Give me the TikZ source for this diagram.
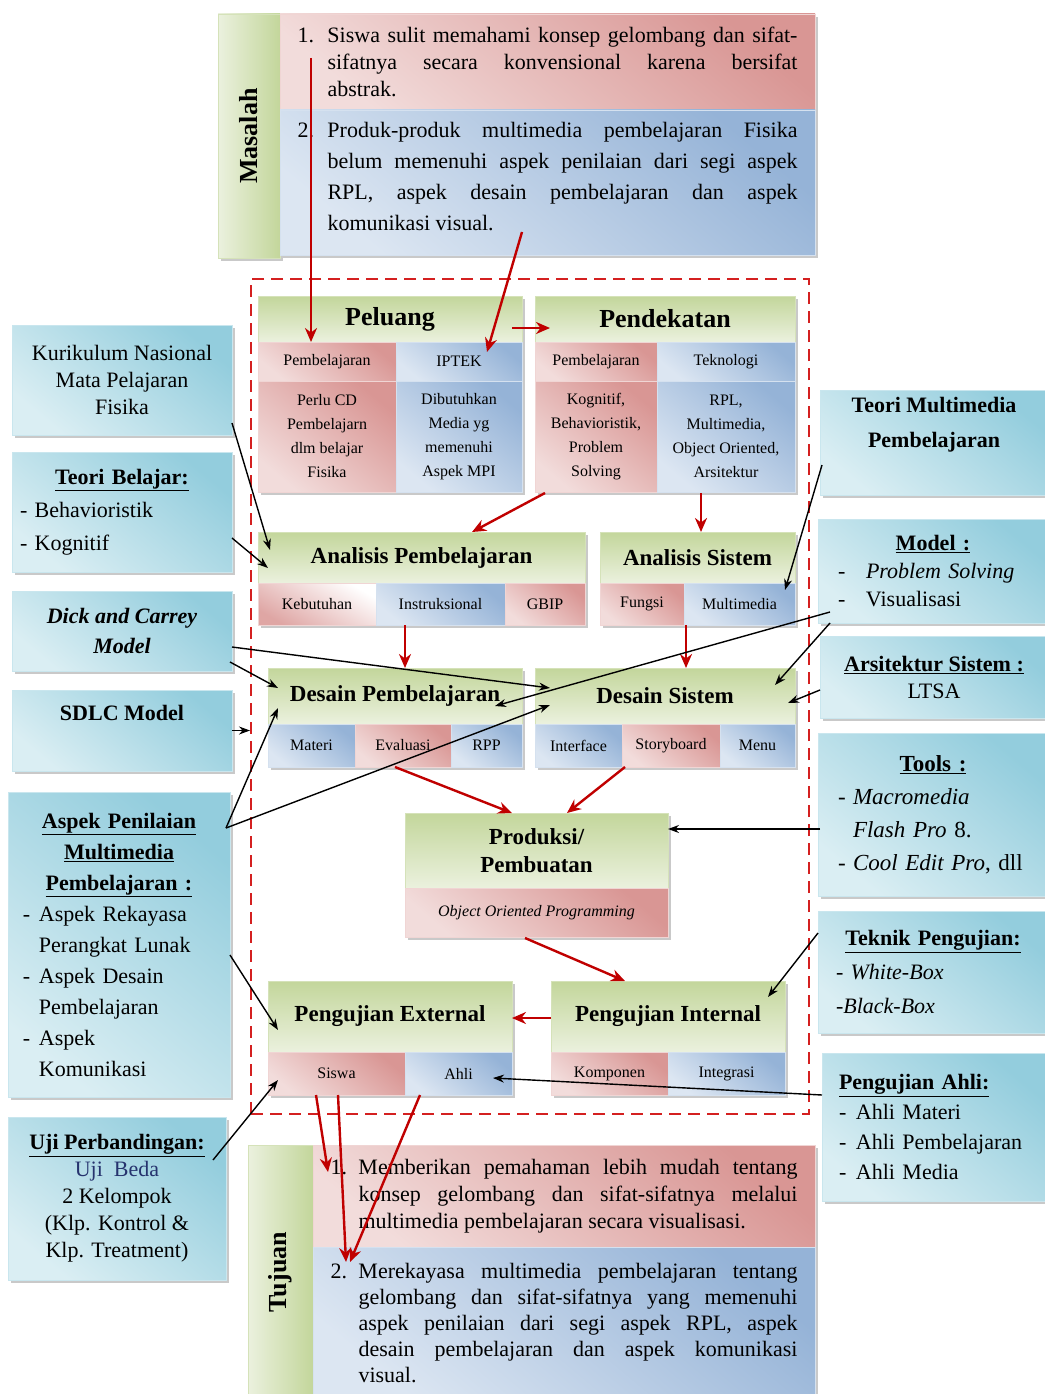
\documentclass[tikz,border=0pt]{standalone}
\usepackage{fontspec}
\setmainfont{Liberation Serif}
\usetikzlibrary{shadows,calc,arrows.meta}
\definecolor{grD}{HTML}{C3D69B}
\definecolor{grL}{HTML}{EBF1DE}
\definecolor{rdD}{HTML}{D99694}
\definecolor{rdL}{HTML}{F2DCDB}
\definecolor{blD}{HTML}{95B3D7}
\definecolor{blL}{HTML}{DCE6F2}
\definecolor{cyD}{HTML}{93CDDD}
\definecolor{cyL}{HTML}{DAEEF3}
\definecolor{arR}{HTML}{C00000}
\definecolor{frR}{HTML}{D42020}
\definecolor{navy}{HTML}{26336E}
\tikzset{
 cellbase/.style={anchor=north west, inner sep=0pt, outer sep=0pt, align=center, line width=0.8pt,
   drop shadow={shadow xshift=3pt, shadow yshift=-3pt, opacity=0.35, fill=black!60}},
 cellG/.style={cellbase, draw=grD!70!white, top color=grD, bottom color=grL},
 cellGV/.style={cellbase, draw=grD!70!white, left color=grL, right color=grD},
 cellR/.style={cellbase, draw=rdD!40!white, top color=rdD, bottom color=rdL, shading angle=-40},
 cellRW/.style={cellbase, draw=rdD!40!white, top color=white, bottom color=rdD!85, shading angle=-30},
 cellB/.style={cellbase, draw=blD!40!white, top color=blD, bottom color=blL, shading angle=-40},
 cellC/.style={cellbase, draw=cyD!50!white, top color=cyD, bottom color=cyL, shading angle=-40},
 fSub/.style={font=\fontsize{16}{24}\selectfont},
 fHead/.style={font=\fontsize{23}{28}\selectfont\bfseries},
 fBig/.style={font=\fontsize{26}{30}\selectfont\bfseries},
 fBody/.style={font=\fontsize{22}{27}\selectfont},
 fSide/.style={font=\fontsize{22}{27}\selectfont},
 arrR/.style={draw=arR, line width=2.4pt, -{Stealth[length=14pt,width=12pt]}},
 arrK/.style={draw=black, line width=1.4pt, -{Stealth[length=11pt,width=8pt]}},
}
\begin{document}
\begin{tikzpicture}[x=1pt,y=-1pt]
\useasboundingbox (0,0) rectangle (1044,1394);
\fill[white] (0,0) rectangle (1044,1394);

% dashed frame
\node[draw=frR, line width=2.4pt, dash pattern=on 12pt off 7pt, anchor=north west,
  minimum width=558pt, minimum height=835pt, inner sep=0pt] (frame) at (250,278) {};

% Masalah
\node[cellGV, minimum width=62pt, minimum height=244pt, fBig] (masL) at (218,14) {\rotatebox{90}{Masalah}};
\node[cellR, minimum width=535pt, minimum height=96pt, fBody] (mas1) at (280,14)
 {\makebox[30pt][l]{1.}\parbox[t]{470pt}{Siswa sulit memahami konsep gelombang dan sifat-\linebreak sifatnya secara konvensional karena bersifat\linebreak abstrak.}};
\node[cellB, minimum width=535pt, minimum height=145pt, font=\fontsize{22}{31}\selectfont] (mas2) at (280,110)
 {\makebox[30pt][l]{2.}\parbox[t]{470pt}{Produk-produk multimedia pembelajaran Fisika\linebreak belum memenuhi aspek penilaian dari segi aspek\linebreak RPL, aspek desain pembelajaran dan aspek\linebreak komunikasi visual.\par\vspace{12pt}}};

% Peluang
\node[cellG, minimum width=264pt, minimum height=46pt, fBig] (pel) at (258,296) {Peluang};
\node[cellR, minimum width=138pt, minimum height=39pt, fSub] (pelA) at (258,342) {Pembelajaran};
\node[cellB, minimum width=126pt, minimum height=39pt, fSub] (pelB) at (396,342) {IPTEK};
\node[cellR, minimum width=138pt, minimum height=111pt, fSub] (pelC) at (258,381) {Perlu CD\\Pembelajarn\\dlm belajar\\Fisika};
\node[cellB, minimum width=126pt, minimum height=111pt, fSub] (pelD) at (396,381) {Dibutuhkan\\Media yg\\memenuhi\\Aspek MPI};

% Pendekatan
\node[cellG, minimum width=260pt, minimum height=46pt, fBig] (pen) at (535,296) {Pendekatan};
\node[cellR, minimum width=122pt, minimum height=39pt, fSub] (penA) at (535,342) {Pembelajaran};
\node[cellB, minimum width=138pt, minimum height=39pt, fSub] (penB) at (657,342) {Teknologi};
\node[cellR, minimum width=122pt, minimum height=111pt, fSub] (penC) at (535,381) {Kognitif,\\Behavioristik,\\Problem\\Solving};
\node[cellB, minimum width=138pt, minimum height=111pt, fSub] (penD) at (657,381) {RPL,\\Multimedia,\\Object Oriented,\\Arsitektur};

% Analisis Pembelajaran
\node[cellG, minimum width=327pt, minimum height=51pt, fHead] (ap) at (258,532) {Analisis Pembelajaran};
\node[cellRW, minimum width=118pt, minimum height=42pt, fSub] (apA) at (258,583) {Kebutuhan};
\node[cellB, minimum width=129pt, minimum height=42pt, fSub] (apB) at (376,583) {Instruksional};
\node[cellR, minimum width=80pt, minimum height=42pt, fSub] (apC) at (505,583) {GBIP};

% Analisis Sistem
\node[cellG, minimum width=195pt, minimum height=51pt, fHead] (asys) at (600,532) {Analisis Sistem};
\node[cellR, minimum width=84pt, minimum height=42pt, fSub] (asA) at (600,583) {Fungsi};
\node[cellB, minimum width=111pt, minimum height=42pt, fSub] (asB) at (684,583) {Multimedia};

% Desain Pembelajaran
\node[cellG, minimum width=254pt, minimum height=56pt, fHead] (dp) at (268,668) {Desain Pembelajaran};
\node[cellB, minimum width=87pt, minimum height=43pt, fSub] (dpA) at (268,724) {Materi};
\node[cellR, minimum width=96pt, minimum height=43pt, fSub] (dpB) at (355,724) {Evaluasi};
\node[cellB, minimum width=71pt, minimum height=43pt, fSub] (dpC) at (451,724) {RPP};

% Desain Sistem
\node[cellG, minimum width=260pt, minimum height=56pt, fHead] (ds) at (535,668) {Desain Sistem};
\node[cellB, minimum width=87pt, minimum height=43pt, fSub] (dsA) at (535,724) {Interface};
\node[cellR, minimum width=98pt, minimum height=43pt, fSub] (dsB) at (622,724) {Storyboard};
\node[cellB, minimum width=75pt, minimum height=43pt, fSub] (dsC) at (720,724) {Menu};

% Produksi
\node[cellG, minimum width=263pt, minimum height=75pt, fHead] (prod) at (405,813) {Produksi/\\Pembuatan};
\node[cellR, minimum width=263pt, minimum height=49pt, fSub] (prodA) at (405,888) {\textit{Object Oriented Programming}};

% Pengujian
\node[cellG, minimum width=244pt, minimum height=71pt, fHead] (pe) at (268,981) {Pengujian External};
\node[cellR, minimum width=137pt, minimum height=43pt, fSub] (peA) at (268,1052) {Siswa};
\node[cellB, minimum width=107pt, minimum height=43pt, fSub] (peB) at (405,1052) {Ahli};
\node[cellG, minimum width=234pt, minimum height=71pt, fHead] (pi) at (551,981) {Pengujian Internal};
\node[cellR, minimum width=117pt, minimum height=43pt, fSub] (piA) at (551,1052) {Komponen};
\node[cellB, minimum width=117pt, minimum height=43pt, fSub] (piB) at (668,1052) {Integrasi};

% Tujuan
\node[cellGV, minimum width=65pt, minimum height=254pt, fBig] (tujL) at (248,1145) {\rotatebox{90}{Tujuan}};
\node[cellR, minimum width=502pt, minimum height=102pt, fBody] (tuj1) at (313,1145)
 {\makebox[28pt][l]{1.}\parbox[t]{439pt}{Memberikan pemahaman lebih mudah tentang\linebreak konsep gelombang dan sifat-sifatnya melalui\linebreak multimedia pembelajaran secara visualisasi.}};
\node[cellB, minimum width=502pt, minimum height=152pt, font=\fontsize{22}{26}\selectfont] (tuj2) at (313,1247)
 {\makebox[28pt][l]{2.}\parbox[t]{439pt}{Merekayasa multimedia pembelajaran tentang\linebreak gelombang dan sifat-sifatnya yang memenuhi\linebreak aspek penilaian dari segi aspek RPL, aspek\linebreak desain pembelajaran dan aspek komunikasi\linebreak visual.}};

% Left boxes
\node[cellC, minimum width=220pt, minimum height=110pt, fSide] (kur) at (12,325) {Kurikulum Nasional\\Mata Pelajaran\\Fisika};
\node[cellC, minimum width=220pt, minimum height=120pt, text width=204pt, align=left, font=\fontsize{22}{33}\selectfont] (tb) at (12,452)
 {\makebox[204pt][c]{\underline{\textbf{Teori Belajar:}}}\\- Behavioristik\\- Kognitif};
\node[cellC, minimum width=220pt, minimum height=80pt, font=\fontsize{22}{30}\selectfont\bfseries\itshape] (dc) at (12,591) {Dick and Carrey\\Model};
\node[cellC, minimum width=220pt, minimum height=81pt, font=\fontsize{22}{27}\selectfont\bfseries] (sdlc) at (12,690) {SDLC Model\\[8pt]};
\node[cellC, minimum width=222pt, minimum height=305pt, text width=192pt, align=left, font=\fontsize{22}{31}\selectfont] (apm) at (8,792)
 {\makebox[192pt][c]{\underline{\textbf{Aspek Penilaian}}}\\
  \makebox[192pt][c]{\underline{\textbf{Multimedia}}}\\
  \makebox[192pt][c]{\underline{\textbf{Pembelajaran :}}}\\
  \makebox[16pt][l]{-}Aspek Rekayasa\\
  \hspace*{16pt}Perangkat Lunak\\
  \makebox[16pt][l]{-}Aspek Desain\\
  \hspace*{16pt}Pembelajaran\\
  \makebox[16pt][l]{-}Aspek\\
  \hspace*{16pt}Komunikasi};
\node[cellC, minimum width=218pt, minimum height=163pt, fSide] (uji) at (8,1117)
 {\underline{\textbf{Uji Perbandingan:}}\\\textcolor{navy}{Uji\ \ Beda}\\2 Kelompok\\(Klp. Kontrol \&\\Klp. Treatment)};

% Right boxes
\node[cellC, minimum width=228pt, minimum height=105pt, font=\fontsize{22}{35}\selectfont\bfseries] (tmp) at (820,390) {Teori Multimedia\\Pembelajaran\\[6pt]};
\node[cellC, minimum width=230pt, minimum height=104pt, text width=190pt, align=left, font=\fontsize{22}{28}\selectfont] (mod) at (818,519)
 {\makebox[190pt][c]{\underline{\textbf{Model :}}}\\\makebox[28pt][l]{-}\textit{Problem Solving}\\\makebox[28pt][l]{-}Visualisasi};
\node[cellC, minimum width=228pt, minimum height=82pt, fSide] (ars) at (820,636) {\underline{\textbf{Arsitektur Sistem :}}\\LTSA};
\node[cellC, minimum width=230pt, minimum height=163pt, text width=190pt, align=left, font=\fontsize{23}{33}\selectfont] (tools) at (818,733)
 {\makebox[190pt][c]{\underline{\textbf{Tools :}}}\\\makebox[15pt][l]{-}\textit{Macromedia}\\\hspace*{15pt}\textit{Flash Pro} 8.\\\makebox[15pt][l]{-}\textit{Cool Edit Pro}, dll};
\node[cellC, minimum width=230pt, minimum height=122pt, text width=194pt, align=left, font=\fontsize{22}{34}\selectfont] (tek) at (818,911)
 {\makebox[194pt][c]{\underline{\textbf{Teknik Pengujian:}}}\\- \textit{White-Box}\\-\textit{Black-Box}};
\node[cellC, minimum width=226pt, minimum height=148pt, text width=192pt, align=left, font=\fontsize{22}{30}\selectfont] (pa) at (822,1053)
 {\underline{\textbf{Pengujian Ahli:}}\\\makebox[17pt][l]{-}Ahli Materi\\\makebox[17pt][l]{-}Ahli Pembelajaran\\\makebox[17pt][l]{-}Ahli Media};

% Red arrows
\draw[arrR] ($(mas1.north west)+(31,44)$) -- ($(pelA.north west)+(53,0)$);
\draw[arrR] ($(mas2.north west)+(242,122)$) -- ($(pelB.north west)+(91,10)$);
\draw[arrR] ($(pel.north west)+(254,32)$) -- ($(pen.north west)+(15,32)$);
\draw[arrR] ($(penC.north west)+(10,112)$) -- ($(ap.north west)+(214,0)$);
\draw[arrR] ($(penD.north west)+(44,112)$) -- ($(asys.north west)+(101,0)$);
\draw[arrR] ($(apB.north west)+(29,42)$) -- ($(dp.north west)+(137,0)$);
\draw[arrR] ($(asB.north west)+(2,42)$) -- ($(ds.north west)+(151,0)$);
\draw[arrR] ($(dpB.north west)+(40,43)$) -- ($(prod.north west)+(107,0)$);
\draw[arrR] ($(dsB.north west)+(3,43)$) -- ($(prod.north west)+(162,0)$);
\draw[arrR] ($(prodA.north west)+(120,50)$) -- ($(pi.north west)+(74,0)$);
\draw[arrR] ($(pi.north west)+(0,37)$) -- ($(pe.north west)+(244,37)$);
\draw[arrR] ($(peA.north west)+(48,43)$) -- ($(tuj1.north west)+(15,27)$);
\draw[arrR] ($(peA.north west)+(70,43)$) -- ($(tuj2.north west)+(33,15)$);
\draw[arrR] ($(peB.north west)+(15,43)$) -- ($(tuj2.north west)+(37,15)$);

% Black arrows
\draw[arrK] ($(kur.north west)+(220,98)$) -- ($(ap.north west)+(12,18)$);
\draw[arrK] ($(tb.north west)+(220,86)$) -- ($(ap.north west)+(10,36)$);
\draw[arrK] ($(dc.north west)+(218,71)$) -- ($(dp.north west)+(10,20)$);
\draw[arrK] ($(dc.north west)+(220,56)$) -- ($(ds.north west)+(15,20)$);
\draw[arrK] (sdlc.east) -- (frame.west |- sdlc.east);
\draw[arrK] ($(apm.north west)+(218,36)$) -- ($(dp.north west)+(10,40)$);
\draw[arrK] ($(apm.north west)+(218,36)$) -- ($(ds.north west)+(15,37)$);
\draw[arrK] ($(apm.north west)+(222,163)$) -- ($(pe.north west)+(10,49)$);
\draw[arrK] ($(uji.north west)+(205,43)$) -- ($(peA.north west)+(10,28)$);
\draw[arrK] ($(tmp.north west)+(2,75)$) -- ($(asB.north west)+(101,7)$);
\draw[arrK] ($(mod.north west)+(12,93)$) -- ($(dp.north west)+(227,38)$);
\draw[arrK] ($(mod.north west)+(12,104)$) -- ($(ds.north west)+(240,17)$);
\draw[arrK] ($(ars.north west)+(0,54)$) -- ($(ds.north west)+(253,35)$);
\draw[arrK] ($(tools.north west)+(2,96)$) -- ($(prod.north west)+(263,16)$);
\draw[arrK] ($(tek.north west)+(0,22)$) -- ($(pi.north west)+(217,16)$);
\draw[arrK] ($(pa.north west)+(0,42)$) -- ($(peB.north west)+(88,26)$);
\end{tikzpicture}
\end{document}
